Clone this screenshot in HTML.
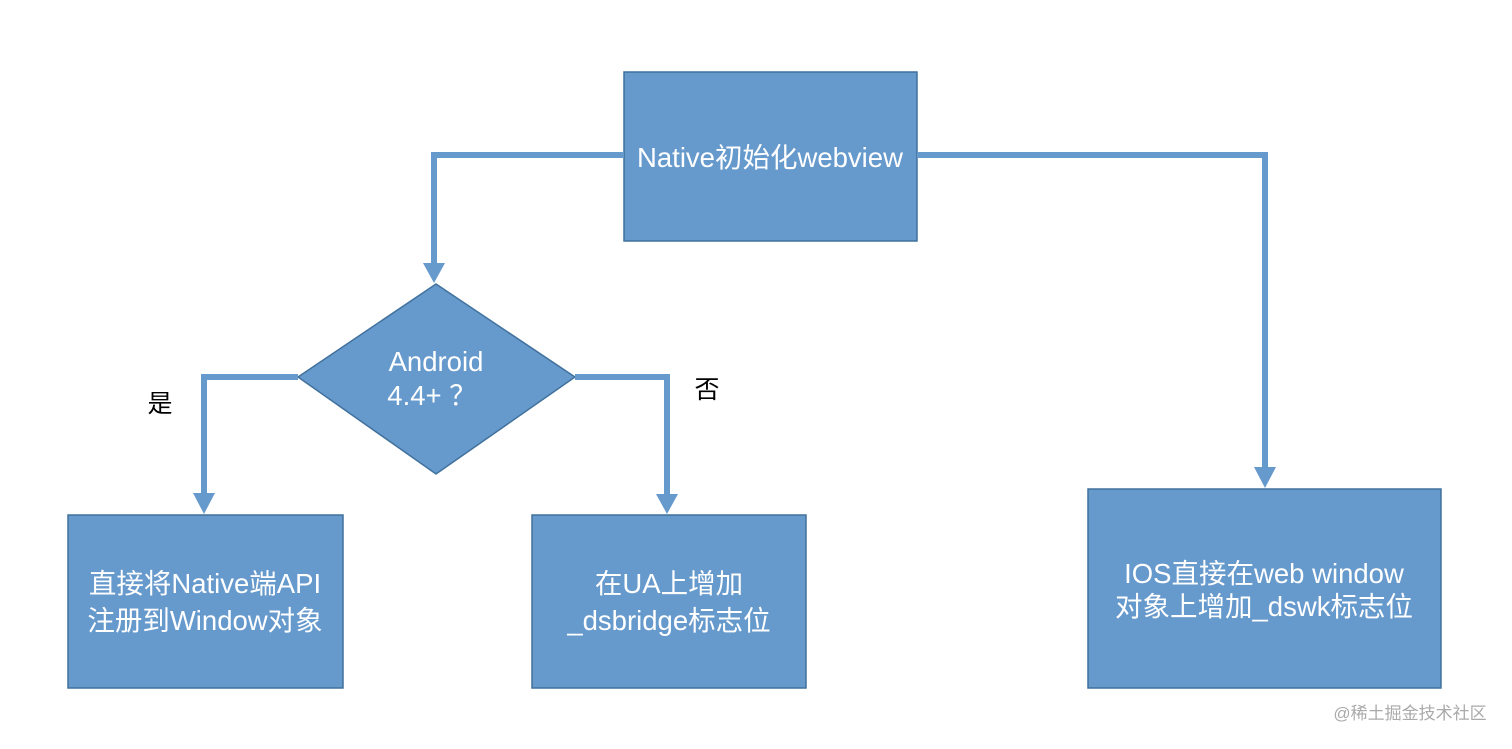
<!DOCTYPE html>
<html><head><meta charset="utf-8"><style>
body{margin:0;background:#fff;}
svg text{font-family:"Liberation Sans","Noto Sans CJK SC",sans-serif;}
</style></head><body>
<svg width="1512" height="744" viewBox="0 0 1512 744" xmlns="http://www.w3.org/2000/svg">
<g fill="#6699cc" stroke="#41719c" stroke-width="1.5">
<rect x="624" y="72" width="293" height="169"/>
<polygon points="436,284 575,377 436,474 298,377"/>
<rect x="68" y="515" width="275" height="173"/>
<rect x="532" y="515" width="274" height="173"/>
<rect x="1088" y="489" width="353" height="199"/>
</g>
<g fill="none" stroke="#6699cc" stroke-width="6">
<polyline points="624,155 434,155 434,266"/>
<polyline points="917,155 1265,155 1265,470"/>
<polyline points="298,377 204,377 204,496"/>
<polyline points="575,377 667,377 667,497"/>
</g>
<g fill="#6699cc">
<polygon points="423,263 445,263 434,283"/>
<polygon points="1254,467 1276,467 1265,488"/>
<polygon points="193,493 215,493 204,514"/>
<polygon points="656,494 678,494 667,514"/>
</g>
<g fill="#fff" font-size="27.5" text-anchor="middle">
<text x="770" y="167">Native初始化webview</text>
<text x="436" y="371">Android</text>
<text x="432" y="405">4.4+ ？</text>
<text x="205" y="593">直接将Native端API</text>
<text x="205" y="630">注册到Window对象</text>
<text x="669" y="593">在UA上增加</text>
<text x="669" y="630">_dsbridge标志位</text>
<text x="1264" y="583">IOS直接在web window</text>
<text x="1264" y="616">对象上增加_dswk标志位</text>
</g>
<g fill="#000" font-size="25" text-anchor="middle">
<text x="160" y="412">是</text>
<text x="707" y="398">否</text>
</g>
<text x="1410" y="719" font-size="17" fill="#aaa" text-anchor="middle">@稀土掘金技术社区</text>
</svg>
</body></html>
